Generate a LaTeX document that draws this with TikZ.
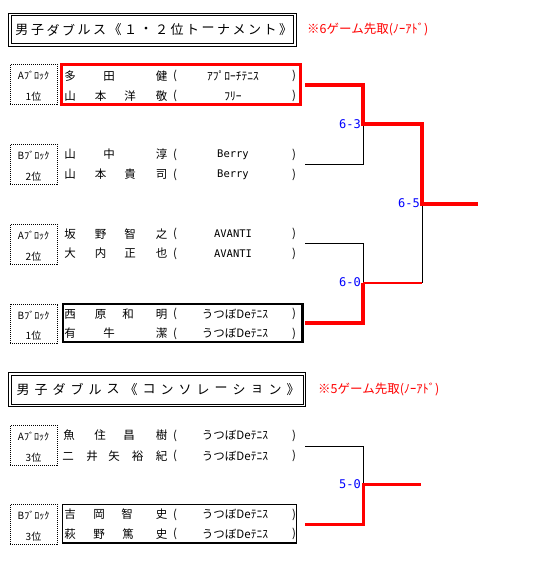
\documentclass[tikz,border=0pt]{standalone}
\usepackage{fontspec}
\setmainfont{Noto Sans CJK JP}
\newfontfamily\monof{DejaVu Sans Mono}
\definecolor{bred}{RGB}{255,0,0}
\definecolor{bblue}{RGB}{0,0,255}
\begin{document}
\begin{tikzpicture}[x=1pt,y=-1pt,
  nm/.style={inner sep=0pt, font=\fontsize{11.5}{12}\selectfont},
  tt/.style={inner sep=0pt, font=\fontsize{13}{14}\selectfont},
  note/.style={inner sep=0pt, text=bred, font=\fontsize{12.5}{13}\selectfont},
  lat/.style={inner sep=0pt, font=\monof\fontsize{10.5}{11}\selectfont},
  blk/.style={draw, line width=0.8pt, dash pattern=on 1pt off 1pt, minimum width=47pt, minimum height=39.5pt, inner sep=0pt},
  bl/.style={inner sep=0pt, font=\fontsize{10}{11}\selectfont},
  score/.style={inner sep=0pt, text=bblue, font=\monof\fontsize{12}{13}\selectfont},
  thin/.style={line width=1pt},
  win/.style={draw=bred, line width=3.5pt},
  win2/.style={draw=bred, line width=3pt}]
\useasboundingbox (0,0) rectangle (540,568);

% ---------- title 1 ----------
\draw[line width=1pt] (8.5,13.2) rectangle (296.5,46.2);
\draw[line width=1pt] (11.5,15.7) rectangle (293.8,43.5);
\foreach \c [count=\i] in {男,子,ダ,ブ,ル,ス,《,１,・,２,位,ト,ー,ナ,メ,ン,ト,》}
  \node[tt] (ta\i) at ({22+(\i-1)*15.5},30) {\c};
\node[note, anchor=west] (r1) at (307,29) {※6ゲーム先取(ﾉｰｱﾄﾞ)};

% ---------- title 2 ----------
\draw[line width=1pt] (8.5,372.8) rectangle (305.5,406.5);
\draw[line width=1pt] (11.5,375.5) rectangle (303.3,404.2);
\foreach \c [count=\i] in {男,子,ダ,ブ,ル,ス,《,コ,ン,ソ,レ,ー,シ,ョ,ン,》}
  \node[tt] (tb\i) at ({23+(\i-1)*18},389.5) {\c};
\node[note, anchor=west] (r2) at (318,389) {※5ゲーム先取(ﾉｰｱﾄﾞ)};

% ---------- block labels ----------
\foreach \t/\a/\b [count=\i] in {64/A/1,144/B/2,224/A/2,303.5/B/1,425/A/3,504/B/3}{
  \node[blk, anchor=north west] (b\i) at (10,\t) {};
  \node[bl] (bla\i) at (33.5,\t+12) {\a ﾌﾞﾛｯｸ};
  \node[bl] (blb\i) at (33.5,\t+32.5) {\b 位};
}

% ---------- names ----------
% entry 1
\foreach \x/\c [count=\k] in {70/多,109/田,161.5/健} \node[nm] (n1a\k) at (\x,76) {\c};
\foreach \x/\c [count=\k] in {70/山,100.5/本,130/洋,161.5/敬} \node[nm] (n1b\k) at (\x,96) {\c};
\node[nm] (t1a) at (233,76) {ｱﾌﾟﾛｰﾁﾃﾆｽ};
\node[nm] (t1b) at (233,96) {ﾌﾘｰ};
% entry 2
\foreach \x/\c [count=\k] in {70/山,109/中,161.5/淳} \node[nm] (n2a\k) at (\x,154.5) {\c};
\foreach \x/\c [count=\k] in {70/山,100.5/本,130/貴,161.5/司} \node[nm] (n2b\k) at (\x,174.5) {\c};
\node[lat] (t2a) at (233,154.5) {Berry};
\node[lat] (t2b) at (233,174.5) {Berry};
% entry 3
\foreach \x/\c [count=\k] in {70/坂,100.5/野,130/智,161.5/之} \node[nm] (n3a\k) at (\x,234) {\c};
\foreach \x/\c [count=\k] in {70/大,100.5/内,130/正,161.5/也} \node[nm] (n3b\k) at (\x,253.5) {\c};
\node[lat] (t3a) at (233,234) {AVANTI};
\node[lat] (t3b) at (233,253.5) {AVANTI};
% entry 4
\foreach \x/\c [count=\k] in {70/西,100.5/原,128/和,161.5/明} \node[nm] (n4a\k) at (\x,314) {\c};
\foreach \x/\c [count=\k] in {70/有,109/牛,161.5/潔} \node[nm] (n4b\k) at (\x,333.5) {\c};
\node[nm] (t4a) at (235,314) {うつぼDeﾃﾆｽ};
\node[nm] (t4b) at (235,333.5) {うつぼDeﾃﾆｽ};
% entry 5
\foreach \x/\c [count=\k] in {69/魚,100/住,129/昌,161.5/樹} \node[nm] (n5a\k) at (\x,435.5) {\c};
\foreach \x/\c [count=\k] in {68/二,92/井,114/矢,137.5/裕,161.5/紀} \node[nm] (n5b\k) at (\x,456) {\c};
\node[nm] (t5a) at (235,435.5) {うつぼDeﾃﾆｽ};
\node[nm] (t5b) at (235,456) {うつぼDeﾃﾆｽ};
% entry 6
\foreach \x/\c [count=\k] in {70/吉,99/岡,127/智,161.5/史} \node[nm] (n6a\k) at (\x,514.5) {\c};
\foreach \x/\c [count=\k] in {70/萩,99/野,128/篤,161.5/史} \node[nm] (n6b\k) at (\x,534) {\c};
\node[nm] (t6a) at (235,514.5) {うつぼDeﾃﾆｽ};
\node[nm] (t6b) at (235,534) {うつぼDeﾃﾆｽ};

% parentheses
\foreach \y [count=\i] in {76,96,154.5,174.5,234,253.5,314,333.5,435.5,456,514.5,534}{
  \node[nm] (po\i) at (175,\y) {(};
  \node[nm] (pc\i) at (294,\y) {)};
}

% ---------- highlight boxes ----------
\draw[bred, line width=3pt] (61.5,64.7) rectangle (300,104.5);
\draw[line width=2.5pt] (63,304) rectangle (302.5,342);
\draw[line width=1.3pt] (62.5,504.5) rectangle (296.5,543);

% ---------- bracket coordinates ----------
\coordinate (e1) at (305,85);
\coordinate (e2) at (305,164);
\coordinate (e3) at (305,243);
\coordinate (e4) at (305,323);
\coordinate (e5) at (305,446);
\coordinate (e6) at (305,524);
\coordinate (m1) at (363,124);
\coordinate (m2) at (363,283);
\coordinate (fin) at (422,204);
\coordinate (fend) at (478,204);
\coordinate (m3) at (363,484);
\coordinate (m3end) at (421,484);

% losing lines
\draw[thin] (e2) -| (m1);
\draw[thin] (e3) -| (m2);
\draw[thin] (fin) -- (fin |- m2);
\draw[thin] (e5) -| (m3);

% winning lines
\draw[win, line join=miter] (e1) -| (m1) -| (fin) -- (fend);
\draw[win, line join=miter] (e4) -| (m2);
\draw[draw=bred, line width=2.5pt] (m2) -- (fin |- m2);
\draw[win2, line join=miter] (e6) -| (m3) -- (m3end);

% scores
\node[score, anchor=east] (s1) at (361,124) {6-3};
\node[score, anchor=east] (s2) at (361,282.5) {6-0};
\node[score, anchor=east] (s3) at (420,203.5) {6-5};
\node[score, anchor=east] (s4) at (361,484) {5-0};
\end{tikzpicture}
\end{document}
